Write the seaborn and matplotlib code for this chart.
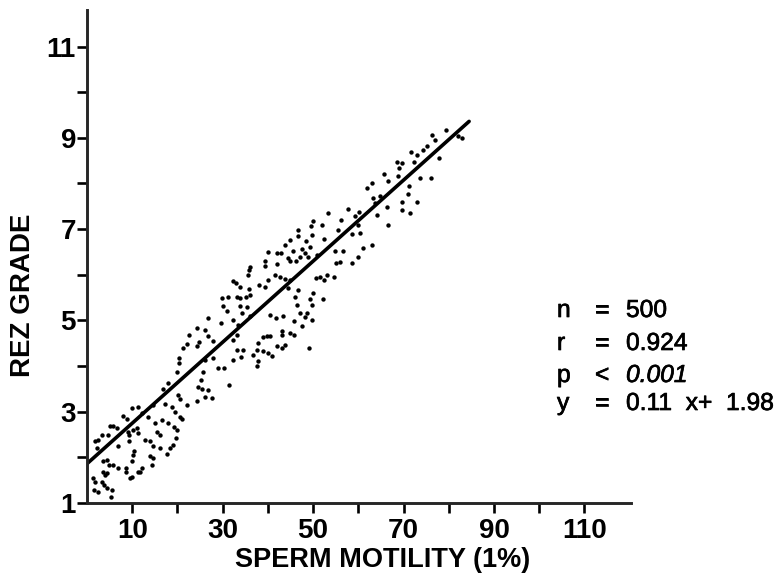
import matplotlib
matplotlib.use('Agg')
import matplotlib.pyplot as plt
import matplotlib.patheffects as pe
import pandas as pd
import seaborn as sns

# values
motility = [
    1.25, 1.77, 2.51, 1.55, 3.47, 3.98, 3.24, 3.76, 4.5, 5.46, 5.24, 4.35, 4.94, 5.68, 3.61, 4.35,
    6.93, 8.63, 8.63, 9.88, 9.51, 11.36, 12.09, 11.73, 9.88, 10.1, 10.4, 14.3, 13.94, 14.53, 6.93, 9.37,
    9.37, 10.25, 11.36, 12.83, 13.94, 14.68, 16.15, 17.63, 18.36, 18.95, 19.69, 15.56, 16.15, 15.04, 16.52, 17.99,
    19.25, 19.84, 17.26, 18.73, 19.47, 20.58, 20.94, 1.77, 2.51, 2.14, 3.24, 4.72, 5.09, 5.83, 6.71, 8.04,
    8.78, 9.88, 11.36, 13.57, 16.89, 17.99, 19.99, 20.43, 20.43, 21.17, 22.05, 22.49, 24.26, 24.26, 24.85, 26.11,
    26.84, 26.84, 27.8, 29.57, 32.37, 20.21, 20.58, 22.05, 24.41, 24.63, 25.15, 25.74, 25.37, 26.84, 26.11, 27.58,
    29.06, 30.31, 31.49, 32.37, 34.0, 33.11, 34.44, 36.8, 37.54, 37.9, 37.9, 37.68, 39.01, 40.12, 38.86, 39.9,
    30.16, 30.9, 33.85, 35.32, 34.22, 36.06, 33.48, 33.11, 32.37, 9.14, 10.99, 12.09, 14.68, 26.11, 27.95,
    36.06, 35.69, 35.91, 32.23, 32.96, 33.85, 33.11, 33.85, 35.91, 36.06, 35.18, 38.13, 39.38, 39.97, 39.38, 39.38,
    39.97, 42.11, 41.59, 42.7, 43.81, 29.79, 31.27, 44.4, 44.91, 46.24, 43.81, 44.91, 46.76, 46.76, 49.7, 49.93,
    49.48, 51.92, 52.43, 53.24, 55.46, 56.12, 57.82, 60.25, 59.29, 45.65, 41.96, 42.85, 47.49, 48.45, 49.34, 48.23,
    47.12, 48.97, 50.81, 54.87, 56.71, 55.97, 55.09, 58.55, 60.03, 61.14, 58.55, 60.4, 50.59, 51.55, 52.43, 53.17,
    54.72, 46.76, 46.02, 46.39, 50.07, 49.34, 49.7, 52.29, 44.91, 44.54, 40.49, 41.81, 43.44, 45.8, 47.49, 47.12,
    48.6, 48.23, 49.7, 43.07, 43.07, 44.91, 45.8, 49.0, 40.49, 41.96, 43.81, 43.07, 40.86,
    76.25, 76.99, 79.42, 75.29, 74.26, 73.08, 71.61, 72.42, 68.51, 69.76, 69.1, 68.88, 65.71, 66.67, 63.13, 61.87,
    73.67, 76.11, 77.88, 82.89, 82.15, 71.24, 71.09, 69.76, 69.62, 73.08, 71.46, 66.3, 66.52, 63.35, 63.72, 64.82,
    64.09, 63.13, 60.03,
]
rez_grade = [
    1.54, 1.47, 1.25, 1.29, 1.69, 1.61, 1.47, 1.39, 1.32, 1.29, 1.14, 1.65, 1.83, 1.83, 1.93, 1.94,
    1.76, 1.76, 1.67, 1.58, 1.54, 1.69, 1.76, 1.69, 1.91, 2.05, 2.13, 1.83, 2.02, 1.98, 2.24, 2.35,
    2.49, 2.6, 2.53, 2.38, 2.35, 2.24, 2.2, 2.07, 2.2, 2.27, 2.42, 2.56, 2.49, 2.75, 2.81, 2.76,
    2.67, 2.59, 3.17, 3.11, 3.0, 2.89, 2.83, 2.35, 2.38, 2.2, 2.49, 2.49, 2.69, 2.69, 2.65, 2.91,
    2.83, 3.08, 3.11, 2.88, 3.49, 3.62, 3.88, 4.06, 4.17, 4.39, 4.49, 4.68, 4.83, 4.43, 4.52, 4.78,
    4.66, 5.05, 4.54, 4.94, 5.0, 3.37, 3.27, 3.15, 3.24, 3.54, 3.7, 3.88, 3.49, 3.48, 3.32, 3.31,
    3.95, 3.95, 3.59, 4.14, 4.19, 4.36, 4.36, 4.25, 4.36, 4.5, 4.1, 4.0, 4.32, 4.28, 4.63, 4.65,
    5.31, 5.2, 5.31, 5.29, 5.16, 5.1, 4.9, 4.68, 4.57, 2.56, 2.64, 2.97, 3.15, 4.14, 4.17,
    6.18, 6.0, 6.11, 5.87, 5.82, 5.74, 5.52, 5.49, 5.69, 5.56, 5.52, 5.78, 5.74, 5.89, 6.31, 6.2,
    6.49, 6.24, 6.0, 5.96, 5.91, 5.49, 5.52, 6.37, 6.31, 6.31, 6.66, 6.77, 6.99, 6.86, 6.88, 7.17,
    7.07, 7.1, 6.78, 7.35, 6.97, 7.19, 7.43, 7.37, 7.28, 6.51, 6.48, 6.48, 6.56, 6.73, 6.61, 6.48,
    6.4, 6.4, 6.44, 6.51, 6.51, 6.29, 6.26, 6.26, 6.4, 6.58, 6.89, 6.91, 5.93, 5.96, 5.89, 6.0,
    5.96, 5.67, 5.52, 5.34, 5.6, 5.47, 5.34, 5.47, 5.89, 5.71, 5.12, 5.06, 5.09, 4.98, 4.87, 5.16,
    5.16, 5.07, 5.01, 4.76, 4.68, 4.72, 4.68, 4.39, 4.65, 4.43, 4.46, 4.39, 4.22,
    9.07, 8.96, 9.18, 8.83, 8.74, 8.63, 8.69, 8.46, 8.46, 8.45, 8.34, 8.16, 8.21, 8.05, 8.0, 7.89,
    8.12, 8.11, 8.56, 9.0, 9.05, 7.94, 7.78, 7.59, 7.41, 7.59, 7.35, 7.48, 7.1, 7.68, 7.57, 7.73,
    7.32, 6.66, 7.1,
]
line_x = [0, 84.5]
line_y = [1.86, 9.36]

x_ticks = [10, 20, 30, 40, 50, 60, 70, 80, 90, 100, 110]
x_labels = ['10', '', '30', '', '50', '', '70', '', '90', '', '110']
y_ticks = [1, 2, 3, 4, 5, 6, 7, 8, 9, 10, 11]
y_labels = ['1', '', '3', '', '5', '', '7', '', '9', '', '11']
stat_names = ['n', 'r', 'p', 'y']
stat_signs = ['=', '=', '<', '=']
stat_values = ['500', '0.924', '0.001', '0.11  x+  1.98']

sns.set_style('white', rc={'text.color': 'black', 'axes.labelcolor': 'black',
                           'xtick.color': 'black', 'ytick.color': 'black'})
plt.rcParams['font.family'] = ['Liberation Sans', 'DejaVu Sans']

W, H = 782, 578
fig = plt.figure(figsize=(W / 100, H / 100), dpi=100)
ax = fig.add_axes([87 / W, 1 - 503 / H, 544 / W, 493 / H])

df = pd.DataFrame({'motility': motility, 'rez_grade': rez_grade})
sns.scatterplot(data=df, x='motility', y='rez_grade', color='black', s=10, linewidth=0, ax=ax, clip_on=False)
sns.lineplot(x=line_x, y=line_y, color='black', linewidth=2.6, ax=ax)

ax.set_xlim(0, 120.3)
ax.set_ylim(1, 11.8)
sns.despine(ax=ax)
for side in ['left', 'bottom']:
    ax.spines[side].set_linewidth(2.1)

ax.set_xticks(x_ticks, x_labels, fontsize=20, fontweight='bold')
ax.set_yticks(y_ticks, y_labels, fontsize=20, fontweight='bold')
ax.tick_params(axis='x', length=7, width=1.9, pad=4, bottom=True)
ax.tick_params(axis='y', length=7, width=1.9, pad=1, left=True)
ax.set_xlabel('SPERM MOTILITY (1%)', fontsize=19.5, fontweight='bold', va='center')
ax.xaxis.set_label_coords((383 - 87) / 544, -(560 - 503) / 493, transform=ax.transAxes)
ax.set_ylabel('REZ GRADE', fontsize=20, fontweight='bold', va='center')
ax.yaxis.set_label_coords((23 - 87) / 544, (503 - 295) / 493, transform=ax.transAxes)

stroke = [pe.withStroke(linewidth=0.5, foreground='black')]
for i, name in enumerate(stat_names):
    py = [310, 343, 375, 403][i]
    y_pos = (503 - py) / 493
    kw = dict(transform=ax.transAxes, fontsize=17.7, va='center', clip_on=False, path_effects=stroke)
    ax.text((557 - 87) / 544, y_pos, name, **kw)
    ax.text((595 - 87) / 544, y_pos, stat_signs[i], **kw)
    ax.text((626 - 87) / 544, y_pos, stat_values[i], fontstyle='italic' if name == 'p' else 'normal', **kw)

fig.savefig('out.png', dpi=100)
